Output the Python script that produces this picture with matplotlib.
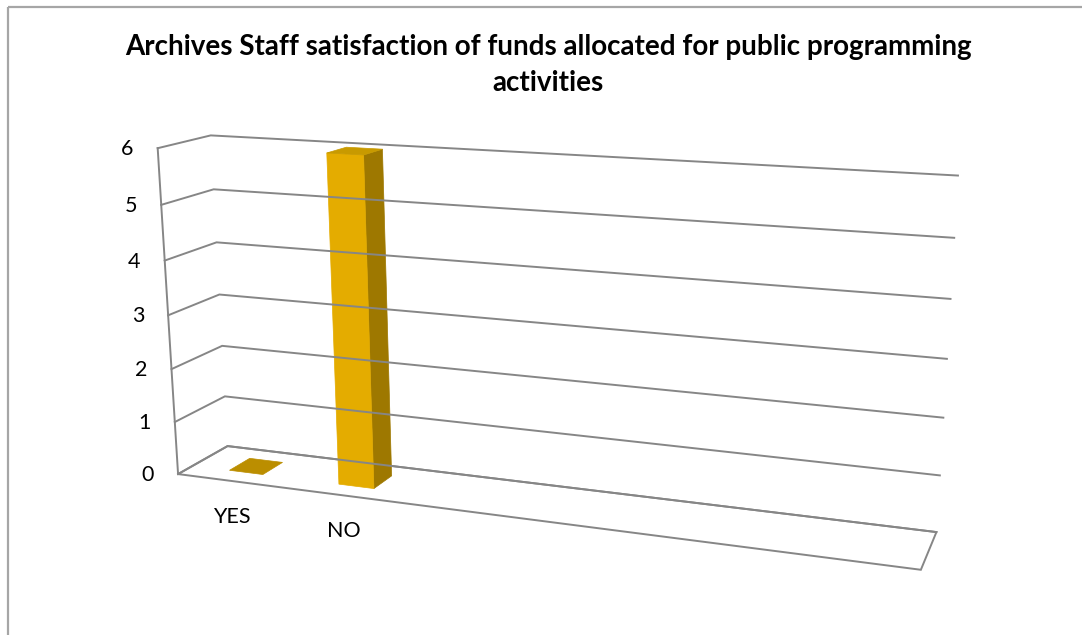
import numpy as np
import matplotlib
matplotlib.use("Agg")
import matplotlib.pyplot as plt
from matplotlib.patches import Polygon, Rectangle

# ---- data ----
categories = ["YES", "NO"]
values = [0, 6]
y_ticks = [0, 1, 2, 3, 4, 5, 6]
title = "Archives Staff satisfaction of funds allocated for public programming\nactivities"

# ---- layout ----
W, H = 1082, 635
n_slots = 6            # category slots along the floor
bar_frac = 0.31        # bar width as a fraction of a slot
bar_depth = 0.42       # bar depth as a fraction of the floor depth
y_max = 6

# screen anchors of the 3D box, (u, value, depth) -> pixel; depth 0 = front, 1 = back
anchors = [
    ((0, 0, 1), (228, 446)), ((0, 1, 1), (225, 397)), ((0, 2, 1), (222, 346)),
    ((0, 3, 1), (219, 294)), ((0, 4, 1), (217, 243)), ((0, 5, 1), (213, 189)),
    ((0, 6, 1), (211, 135)),
    ((1, 0, 1), (936, 532)), ((1, 1, 1), (940, 475)), ((1, 2, 1), (944, 417)),
    ((1, 3, 1), (947, 360)), ((1, 4, 1), (950, 299)), ((1, 5, 1), (954, 238)),
    ((1, 6, 1), (958, 175)),
    ((0, 0, 0), (177, 474)), ((0, 1, 0), (175, 421)), ((0, 2, 0), (172, 370)),
    ((0, 3, 0), (168, 314)), ((0, 4, 0), (165, 262)), ((0, 5, 0), (162, 205)),
    ((0, 6, 0), (157, 148)),
    ((1, 0, 0), (921, 570)),
]


def fit_projection(pairs):
    rows = []
    for (X, Y, Z), (x, y) in pairs:
        Y = Y / y_max
        rows.append([X, Y, Z, 1, 0, 0, 0, 0, -x * X, -x * Y, -x * Z, -x])
        rows.append([0, 0, 0, 0, X, Y, Z, 1, -y * X, -y * Y, -y * Z, -y])
    _, _, vt = np.linalg.svd(np.array(rows, float))
    return vt[-1].reshape(3, 4)


P = fit_projection(anchors)


def proj(u, v, w):
    p = P @ np.array([u, v / y_max, w, 1.0])
    return p[0] / p[2], p[1] / p[2]


fig = plt.figure(figsize=(W / 100, H / 100), dpi=100)
ax = fig.add_axes([0, 0, 1, 1])
ax.set_xlim(0, W)
ax.set_ylim(H, 0)
ax.axis("off")

font = "Lato"
grid_c = "#868686"
grid_lw = 1.4

# outer frame
ax.add_patch(Rectangle((7.5, 6.5), W + 20, H + 20, fill=False,
                       edgecolor="#a6a6a6", lw=1.6))

# back wall and side wall gridlines
for t in y_ticks:
    x0, y0 = proj(0, t, 0)
    x1, y1 = proj(0, t, 1)
    x2, y2 = proj(1, t, 1)
    ax.plot([x0, x1, x2], [y0, y1, y2], color=grid_c, lw=grid_lw,
            solid_joinstyle="miter")
    ax.text(x0 - 24, y0 + 1, str(t), ha="right", va="center",
            fontsize=15.5, family=font, color="#000000")

# side wall front edge
xa, ya = proj(0, 0, 0)
xb, yb = proj(0, y_max, 0)
ax.plot([xa, xb], [ya, yb], color=grid_c, lw=grid_lw)

# floor outline
floor = [proj(0, 0, 0), proj(1, 0, 0), proj(1, 0, 1), proj(0, 0, 1)]
ax.add_patch(Polygon(floor, closed=True, fill=False, edgecolor=grid_c,
                     lw=grid_lw, joinstyle="miter"))

front_c = "#e4ac00"
side_c = "#9e7800"
top_c = "#c89a00"
flat_c = "#bb8e00"

w0 = 0.5 - bar_depth / 2
w1 = 0.5 + bar_depth / 2
for i, (cat, val) in enumerate(zip(categories, values)):
    uc = (i + 0.5) / n_slots
    hw = bar_frac / n_slots / 2
    u0, u1 = uc - hw, uc + hw
    if val > 0:
        front = [proj(u0, 0, w0), proj(u1, 0, w0), proj(u1, val, w0), proj(u0, val, w0)]
        side = [proj(u1, 0, w0), proj(u1, 0, w1), proj(u1, val, w1), proj(u1, val, w0)]
        top = [proj(u0, val, w0), proj(u1, val, w0), proj(u1, val, w1), proj(u0, val, w1)]
        ax.add_patch(Polygon(side, closed=True, facecolor=side_c, edgecolor=side_c, lw=0.5))
        ax.add_patch(Polygon(front, closed=True, facecolor=front_c, edgecolor=front_c, lw=0.5))
        ax.add_patch(Polygon(top, closed=True, facecolor=top_c, edgecolor=top_c, lw=0.5))
    else:
        top = [proj(u0, 0, w0), proj(u1, 0, w0), proj(u1, 0, w1), proj(u0, 0, w1)]
        ax.add_patch(Polygon(top, closed=True, facecolor=flat_c, edgecolor=flat_c, lw=0.5))
    lx, ly = proj(uc, 0, 0)
    ax.text(lx, ly + 36, cat, ha="center", va="center", fontsize=15.5,
            family=font, color="#000000")

ax.text(548, 65, title, ha="center", va="center", fontsize=20,
        family=font, weight="bold", linespacing=1.5, color="#000000")

fig.savefig("out.png", dpi=100)
